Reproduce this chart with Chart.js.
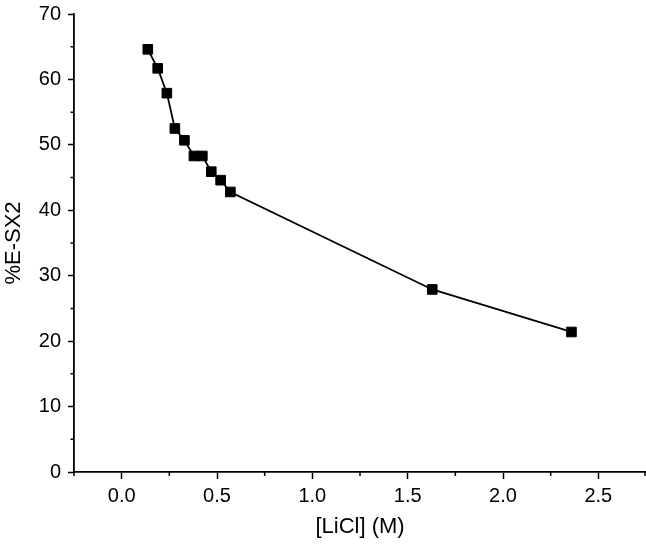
<!DOCTYPE html>
<html>
<head>
<meta charset="utf-8">
<script src="https://cdn.jsdelivr.net/npm/chart.js@4/dist/chart.umd.min.js"></script>
<style>
    html, body { margin: 0; padding: 0; background: #fff; }
    #wrap { width: 646px; height: 549px; }
</style>
</head>
<body>
<div id="wrap"><canvas id="chart"></canvas></div>
<script>
// [LiCl] (M) vs %E-SX2
const licl = [0.137, 0.189, 0.237, 0.279, 0.329, 0.379, 0.423, 0.470, 0.519, 0.570, 1.629, 2.359];
const esx2 = [64.6, 61.7, 57.9, 52.5, 50.7, 48.3, 48.3, 45.9, 44.6, 42.8, 27.9, 21.4];

const xMajor = [0, 0.5, 1.0, 1.5, 2.0, 2.5];
const xMinor = [-0.25, 0.25, 0.75, 1.25, 1.75, 2.25, 2.75];
const yMajor = [0, 10, 20, 30, 40, 50, 60, 70];
const yMinor = [5, 15, 25, 35, 45, 55, 65];

const ink = '#000';
const font = 'Arial, "Liberation Sans", sans-serif';

// short minor ticks, Origin style
const minorTicks = {
    id: 'minorTicks',
    afterDraw(chart) {
        const ctx = chart.ctx;
        const xs = chart.scales.x;
        const ys = chart.scales.y;
        ctx.save();
        ctx.strokeStyle = ink;
        ctx.lineWidth = 1.5;
        ctx.beginPath();
        xMinor.forEach((v) => {
            const px = Math.min(xs.getPixelForValue(v), xs.right - 1);
            ctx.moveTo(px, xs.top);
            ctx.lineTo(px, xs.top + 4);
        });
        yMinor.forEach((v) => {
            const py = ys.getPixelForValue(v);
            ctx.moveTo(ys.right, py);
            ctx.lineTo(ys.right - 3.5, py);
        });
        ctx.stroke();
        ctx.restore();
    },
};

new Chart(document.getElementById('chart'), {
    type: 'scatter',
    data: {
        datasets: [
            {
                label: '%E-SX2',
                data: licl.map((x, i) => ({ x, y: esx2[i] })),
                showLine: true,
                borderColor: ink,
                borderWidth: 1.8,
                pointStyle: 'rect',
                pointRadius: 6.8,
                pointHoverRadius: 6.8,
                pointBackgroundColor: ink,
                pointBorderColor: ink,
                pointBorderWidth: 1,
            },
        ],
    },
    options: {
        responsive: true,
        maintainAspectRatio: false,
        animation: false,
        layout: { autoPadding: false, padding: { top: 14, right: 0, bottom: 0, left: 0 } },
        plugins: {
            legend: { display: false },
            tooltip: { enabled: false },
        },
        scales: {
            x: {
                type: 'linear',
                min: -0.25,
                max: 2.75,
                afterBuildTicks: (scale) => {
                    scale.ticks = xMajor.map((v) => ({ value: v }));
                },
                afterFit: (scale) => {
                    scale.height = 77;
                    scale.paddingLeft = 0;
                    scale.paddingRight = 0;
                },
                ticks: {
                    color: ink,
                    font: { family: font, size: 20 },
                    padding: 5,
                    maxRotation: 0,
                    callback: (v) => Number(v).toFixed(1),
                },
                grid: {
                    drawOnChartArea: false,
                    drawTicks: true,
                    tickLength: 7,
                    tickWidth: 1.5,
                    tickColor: ink,
                },
                border: { display: true, color: ink, width: 1.8 },
                title: {
                    display: true,
                    text: '[LiCl] (M)',
                    color: ink,
                    font: { family: font, size: 22 },
                    padding: { top: 4, bottom: 9 },
                },
            },
            y: {
                type: 'linear',
                min: 0,
                max: 70,
                afterBuildTicks: (scale) => {
                    scale.ticks = yMajor.map((v) => ({ value: v }));
                },
                afterFit: (scale) => {
                    scale.width = 74;
                    scale.paddingTop = 0;
                    scale.paddingBottom = 0;
                },
                ticks: {
                    color: ink,
                    font: { family: font, size: 20 },
                    padding: 7,
                },
                grid: {
                    drawOnChartArea: false,
                    drawTicks: true,
                    tickLength: 6,
                    tickWidth: 1.5,
                    tickColor: ink,
                },
                border: { display: true, color: ink, width: 1.8 },
                title: {
                    display: true,
                    text: '%E-SX2',
                    color: ink,
                    font: { family: font, size: 22 },
                    padding: { top: 1, bottom: 4 },
                },
            },
        },
    },
    plugins: [minorTicks],
});
</script>
</body>
</html>
